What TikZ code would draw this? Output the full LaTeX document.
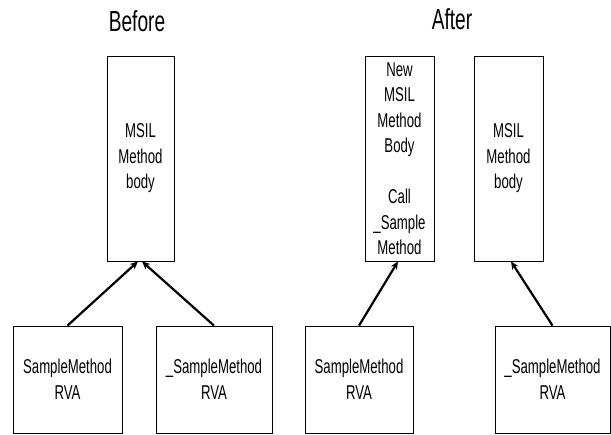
\documentclass[tikz,border=0pt]{standalone}
\usepackage{fontspec}
\setmainfont[FakeStretch=0.66]{Liberation Sans}
\usepackage{tikz}
\usetikzlibrary{arrows.meta}

\begin{document}
\begin{tikzpicture}[x=1pt, y=-1pt,
                    body/.style={draw, line width=0.8pt, inner sep=1pt, minimum width=67pt,
                                 minimum height=205pt, align=center, font=\fontsize{20}{25.5}\selectfont},
                    rva/.style={draw, line width=0.8pt, inner sep=1pt, minimum width=109pt,
                                minimum height=107pt, align=center, font=\fontsize{20}{25.5}\selectfont},
                    title/.style={font=\fontsize{29}{34}\selectfont, inner sep=0},
                    every edge/.style={draw, line width=2.2pt, -{Stealth[length=8pt, width=7pt]}}]
                \useasboundingbox (0,0) rectangle (611,435);
                \node (t0) [title] at (137,21) {Before};
                \node (t1) [title] at (452,19) {After};

                \node (m0) [body] at (140.5,158.5) {MSIL\\Method\\body};
                \node (r0) [rva] at (67.5,379.5) {SampleMethod\\RVA};
                \node (r1) [rva, minimum width=116pt] at (214,379.5) {\_SampleMethod\\RVA};
                \path (r0.north) edge ([xshift=-2.5pt]m0.south);
                \path (r1.north) edge ([xshift=1.5pt]m0.south);

                \node (n1) [body, minimum width=69pt] at (399.5,158.5)
                      {New\\MSIL\\Method\\Body\\\mbox{}\\Call\\\_Sample\\Method};
                \node (m1) [body, minimum width=69pt] at (508.5,158.5) {MSIL\\Method\\body};
                \node (r2) [rva, minimum width=108pt] at (359,379.5) {SampleMethod\\RVA};
                \node (r3) [rva, minimum width=115pt] at (552.5,379.5) {\_SampleMethod\\RVA};
                \path (r2.north) edge ([xshift=-1.5pt]n1.south);
                \path (r3.north) edge ([xshift=2.5pt]m1.south);
            \end{tikzpicture}
\end{document}
